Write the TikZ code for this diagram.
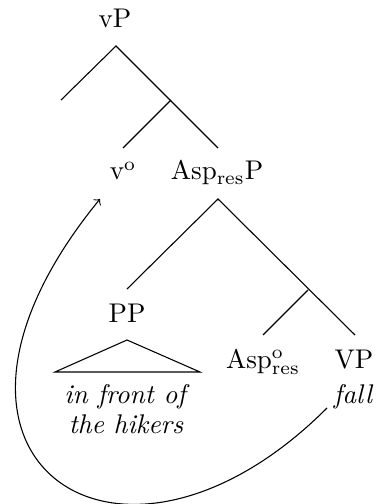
\documentclass[tikz,border=0pt]{standalone}
\begin{document}
\begin{tikzpicture}[x=0.37pt, y=-0.37pt]
  \useasboundingbox (0,0) rectangle (376,504);
  \tikzset{lbl/.style={anchor=base, inner sep=0pt}}

  % labels
  \node[lbl] (vP) at (115,28) {vP};
  \node[lbl] (vo) at (123,180) {v$^{\mathrm{o}}$};
  \node[lbl] (AspP) at (217,180) {Asp$_{\mathrm{res}}$P};
  \node[lbl] (PP) at (127,322) {PP};
  \node[lbl] (Asp) at (263,368) {Asp$^{\mathrm{o}}_{\mathrm{res}}$};
  \node[lbl] (VP) at (354,368) {VP};
  \node[lbl] (fall) at (353,403) {\itshape fall};
  \node[lbl] (obj) at (125,403) {\itshape in front of};
  \node[lbl] (obj2) at (126,433) {\itshape the hikers};

  % branches
  \coordinate (vPb) at (116,46);
  \coordinate (spec) at (61,100);
  \coordinate (vbar) at (171,100);
  \coordinate (votop) at (123,148);
  \coordinate (AspPtop) at (218,148);
  \coordinate (AspPb) at (218,199);
  \coordinate (PPtop) at (127,289);
  \coordinate (Aspbar) at (308,290);
  \coordinate (Asptop) at (263,335);
  \coordinate (VPtop) at (355,335);
  \draw (spec) -- (vPb) -- (AspPtop);
  \draw (vbar) -- (votop);
  \draw (PPtop) -- (AspPb) -- (VPtop);
  \draw (Aspbar) -- (Asptop);

  % triangle
  \coordinate (tri) at (127,340);
  \draw (tri) -- ++(-72,32) -- ++(145,0) -- cycle;

  % movement
  \coordinate (mvs) at (327,408);
  \coordinate (mve) at (100,199);
  \draw[->] (mvs) .. controls (118,617) and (-112,458) .. (mve);
\end{tikzpicture}
\end{document}
